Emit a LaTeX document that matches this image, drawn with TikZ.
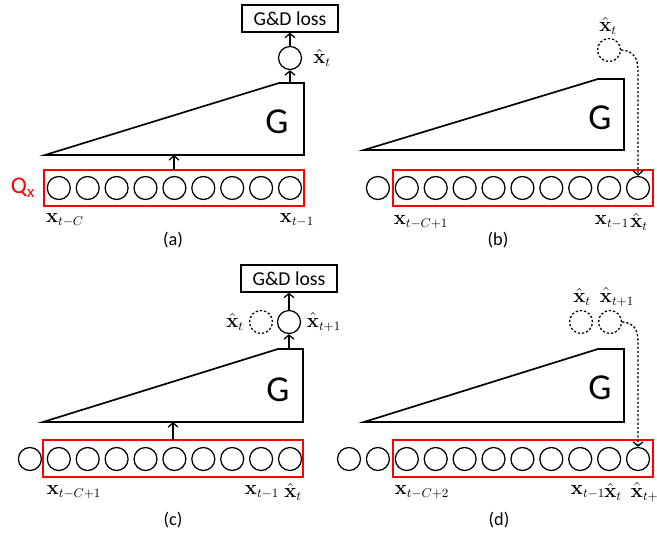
\documentclass[tikz,border=0pt]{standalone}
\usepackage[no-math]{fontspec}
\setmainfont{Carlito}
\usetikzlibrary{arrows.meta}

\tikzset{
  cell/.style={circle, draw, line width=0.9pt, minimum size=0.575cm, inner sep=0pt},
  ghost/.style={cell, dash pattern=on 1.6pt off 1.4pt},
  window/.style={draw=red, line width=1pt},
  gen/.style={draw, line width=1.2pt, line join=miter},
  loss/.style={draw, line width=0.9pt, minimum width=2.4cm, minimum height=0.675cm,
    inner sep=0pt, font=\fontsize{14}{16}\selectfont},
  lbl/.style={inner sep=0pt, font=\fontsize{13.5}{15}\selectfont},
  glabel/.style={inner sep=0pt, font=\fontsize{26}{28}\selectfont},
  caption/.style={inner sep=0pt, font=\fontsize{13}{15}\selectfont},
  flow/.style={-{Straight Barb[length=3pt,width=7pt]}, line width=0.9pt},
  feedback/.style={flow, dash pattern=on 1.6pt off 1.4pt},
}

\begin{document}
\begin{tikzpicture}[x=0.025cm, y=-0.025cm]
  \useasboundingbox (0,0) rectangle (657,537);

  % (a) first step, window x_{t-C} ... x_{t-1}
  \begin{scope}
    \draw[gen] (45,155) -- (279,83) -- (304,83) -- (304,155) -- cycle;
    \node[glabel] (aG) at (277,122) {G};
    \draw[window] (44,170) rectangle (304,206);
    \foreach \i in {0,...,8}
      \node[cell] (a\i) at ({290-28.9*(8-\i)},188) {};
    \node[red, inner sep=0pt, font=\fontsize{17}{19}\selectfont] (aQ) at (23,188) {Q\textsubscript{x}};
    \coordinate (aQtop) at (174,170);
    \coordinate (aGin) at (174,155);
    \coordinate (aGout) at (290,83);
    \draw[flow] (aQtop) -- (aGin);
    \node[cell] (aout) at (290,58) {};
    \node[loss] (aloss) at (290,18.5) {G\&D loss};
    \draw[flow] (aGout) -- (aout.south);
    \draw[flow] (aout.north) -- (aloss.south);
    \node[lbl] (aouttxt) at (322,58) {$\hat{\mathbf{x}}_t$};
    \node[lbl] (afirst) at (65,220) {$\mathbf{x}_{t-C}$};
    \node[lbl] (alast) at (297,220) {$\mathbf{x}_{t-1}$};
    \node[caption] (acap) at (173,240) {(a)};
  \end{scope}

  % (b) prediction fed back into the window
  \begin{scope}
    \draw[gen] (364,150) -- (598,79) -- (624,79) -- (624,150) -- cycle;
    \node[glabel] (bG) at (600,118) {G};
    \draw[window] (393,170) rectangle (653,206);
    \foreach \i in {0,...,9}
      \node[cell] (b\i) at ({638-28.9*(9-\i)},188) {};
    \node[ghost] (bhat) at (609,50) {};
    \node[lbl] (bhattxt) at (608,26) {$\hat{\mathbf{x}}_t$};
    \draw[feedback] (bhat.east) .. controls (634,51) and (638,58) .. (638,72) -- (b9.north);
    \node[lbl] (bfirst) at (421,222) {$\mathbf{x}_{t-C+1}$};
    \node[lbl] (blast) at (612,222) {$\mathbf{x}_{t-1}$};
    \node[lbl] (bnew) at (639,222) {$\hat{\mathbf{x}}_t$};
    \node[caption] (bcap) at (498,240) {(b)};
  \end{scope}

  % (c) second step
  \begin{scope}
    \draw[gen] (43,422) -- (278,349) -- (303,349) -- (303,422) -- cycle;
    \node[glabel] (cG) at (278,390) {G};
    \draw[window] (43,440) rectangle (303,477);
    \foreach \i in {0,...,9}
      \node[cell] (c\i) at ({290-28.9*(9-\i)},459) {};
    \coordinate (cQtop) at (173,440);
    \coordinate (cGin) at (173,422);
    \coordinate (cGout) at (289,349);
    \draw[flow] (cQtop) -- (cGin);
    \node[cell] (cout) at (289,322) {};
    \node[ghost] (cold) at (261,322) {};
    \node[loss] (closs) at (289,278.5) {G\&D loss};
    \draw[flow] (cGout) -- (cout.south);
    \draw[flow] (cout.north) -- (closs.south);
    \node[lbl] (coldtxt) at (235,322) {$\hat{\mathbf{x}}_t$};
    \node[lbl] (couttxt) at (324,322) {$\hat{\mathbf{x}}_{t+1}$};
    \node[lbl] (cfirst) at (74,492) {$\mathbf{x}_{t-C+1}$};
    \node[lbl] (clast) at (262,492) {$\mathbf{x}_{t-1}$};
    \node[lbl] (cnew) at (293,492) {$\hat{\mathbf{x}}_t$};
    \node[caption] (ccap) at (173,520) {(c)};
  \end{scope}

  % (d) second prediction fed back
  \begin{scope}
    \draw[gen] (364,422) -- (598,349) -- (624,349) -- (624,422) -- cycle;
    \node[glabel] (dG) at (600,388) {G};
    \draw[window] (393,440) rectangle (653,477);
    \foreach \i in {0,...,10}
      \node[cell] (d\i) at ({638-28.9*(10-\i)},459) {};
    \node[ghost] (dold) at (581,322) {};
    \node[ghost] (dhat) at (610,322) {};
    \node[lbl] (doldtxt) at (582,297) {$\hat{\mathbf{x}}_t$};
    \node[lbl] (dhattxt) at (617,297) {$\hat{\mathbf{x}}_{t+1}$};
    \draw[feedback] (dhat.east) .. controls (635,323) and (638,330) .. (638,344) -- (d10.north);
    \node[lbl] (dfirst) at (422,492) {$\mathbf{x}_{t-C+2}$};
    \node[lbl] (dlast) at (588,492) {$\mathbf{x}_{t-1}$};
    \node[lbl] (dnew) at (613,492) {$\hat{\mathbf{x}}_t$};
    \node[lbl] (dnext) at (648,492) {$\hat{\mathbf{x}}_{t+1}$};
    \node[caption] (dcap) at (499,520) {(d)};
  \end{scope}

\end{tikzpicture}
\end{document}
